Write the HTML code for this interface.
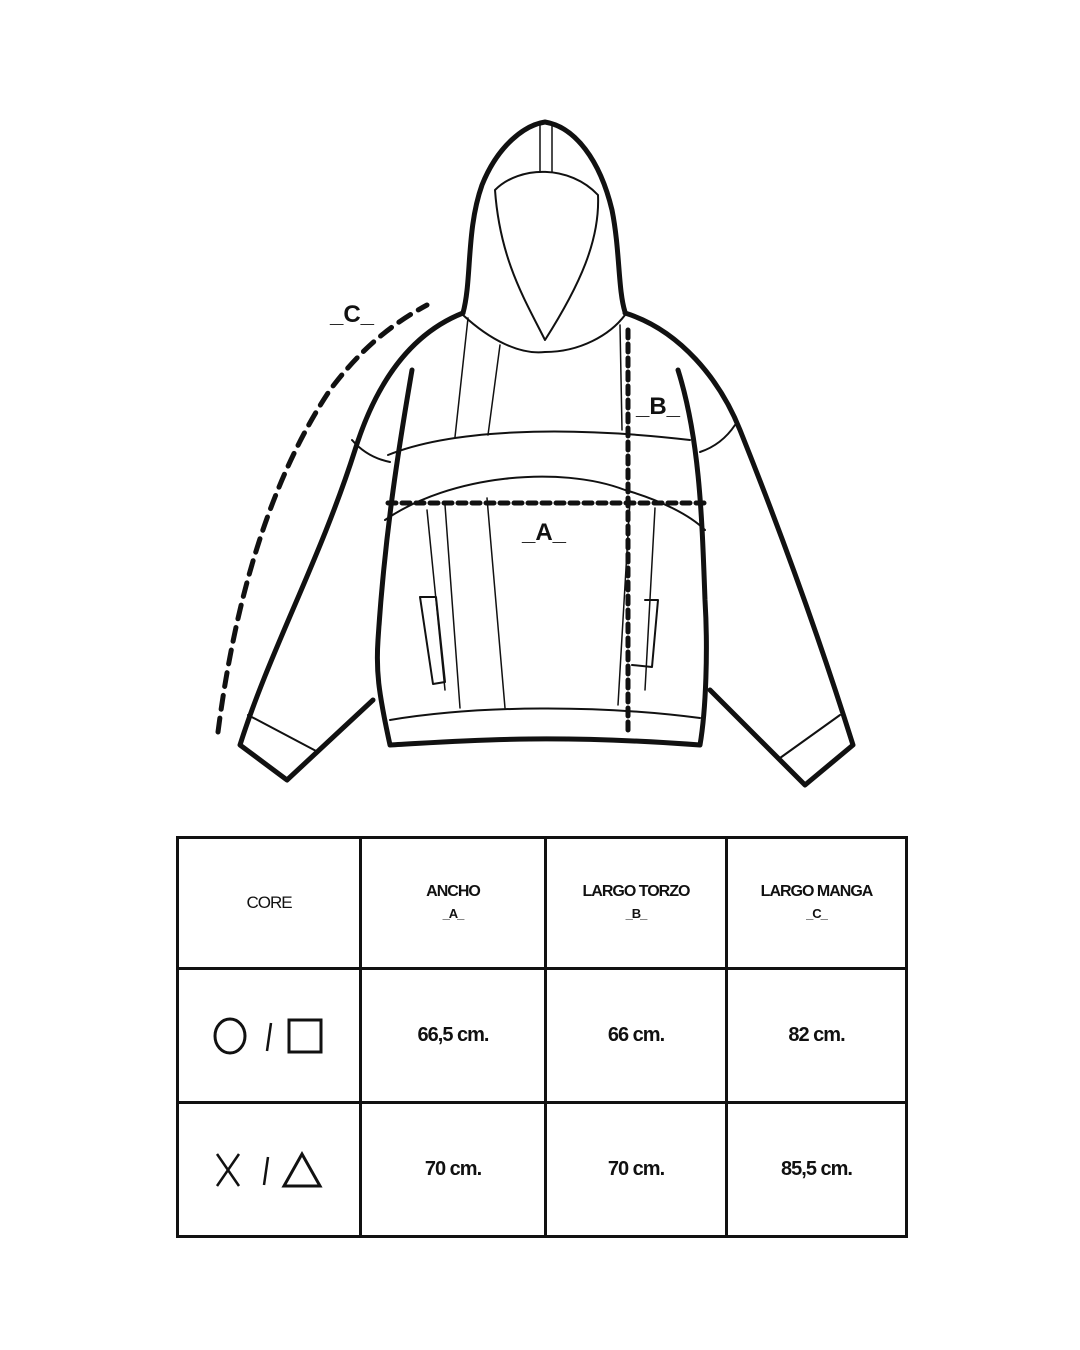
<!DOCTYPE html>
<html><head><meta charset="utf-8"><style>
body{margin:0;background:#fff;width:1080px;height:1350px;position:relative;overflow:hidden;font-family:"Liberation Sans",Arial,sans-serif}
svg{position:absolute;left:0;top:0}
table{position:absolute;left:176px;top:836px;border-collapse:collapse;width:732px;height:399px}
td{border:3px solid #111;text-align:center;vertical-align:middle;font-weight:bold;font-size:20px;letter-spacing:-1px;color:#111}
.h{font-size:16px;line-height:22px}
.core{font-weight:normal;font-size:17px}
.sub{font-size:13px}
</style></head><body>
<svg width="1080" height="830" viewBox="0 0 1080 830" fill="none" stroke="#111" stroke-linecap="round" stroke-linejoin="round">
<path d="M463 313 C472 280 466 230 482 185 C498 145 525 125 545 122 C575 127 600 160 612 210 C620 250 618 290 625 312" stroke-width="5"/>
<path d="M495 190 C520 165 570 165 598 195 C600 240 580 285 545 340 C525 300 500 260 495 190 Z" stroke-width="2"/>
<path d="M540 125 L540 172 M552 125 L552 172" stroke-width="1.5"/>
<path d="M463 315 C490 340 520 355 545 352 C580 352 610 335 625 315" stroke-width="2"/>
<path d="M463 313 C420 330 380 370 355 450 C320 560 270 650 240 745 L287 780 L373 700" stroke-width="5"/>
<path d="M625 313 C680 330 720 380 740 430 C780 530 820 640 853 745 L805 785 L710 690" stroke-width="5"/>
<path d="M412 370 C400 440 385 530 378 640 C376 670 378 690 390 745 C450 742 540 733 700 745 C706 710 708 650 705 600 C702 520 700 440 678 370" stroke-width="5"/>
<path d="M248 715 L318 752" stroke-width="2"/>
<path d="M840 715 L780 758" stroke-width="2"/>
<path d="M352 440 C365 455 380 460 390 462" stroke-width="2"/>
<path d="M735 425 C725 440 712 448 700 452" stroke-width="2"/>
<path d="M388 455 C450 430 560 425 690 440" stroke-width="2"/>
<path d="M385 520 C450 475 560 465 625 490 C660 500 690 515 705 530" stroke-width="2"/>
<path d="M390 720 C480 705 600 705 700 718" stroke-width="2"/>
<path d="M468 318 L455 437 M500 345 L488 435" stroke-width="1.5"/>
<path d="M620 325 L622 430" stroke-width="1.5"/>
<path d="M427 510 L445 690 M445 505 L460 708 M487 498 L505 708" stroke-width="1.5"/>
<path d="M655 508 L645 690 M630 500 L618 705" stroke-width="1.5"/>
<path d="M420 597 L436 597 L445 682 L433 684 Z" stroke-width="2"/>
<path d="M645 600 L658 600 L652 667 L632 665" stroke-width="2"/>
<path d="M218 732 C235 600 270 480 330 390 C360 350 390 325 427 305" stroke-width="5" stroke-dasharray="14 9"/>
<path d="M628 330 L628 735" stroke-width="5" stroke-dasharray="8 6"/>
<path d="M388 503 L705 503" stroke-width="5" stroke-dasharray="8 6"/>
<g fill="#111" stroke="none" font-family="Liberation Sans, Arial, sans-serif" font-weight="bold">
<text x="330" y="322" font-size="24">_C_</text>
<text x="636" y="414" font-size="24">_B_</text>
<text x="522" y="540" font-size="24">_A_</text>
</g>
</svg>
<table>
<tr style="height:131px"><td class="core" style="width:178px">CORE</td><td class="h" style="width:180px">ANCHO<br><span class="sub">_A_</span></td><td class="h" style="width:176px">LARGO TORZO<br><span class="sub">_B_</span></td><td class="h">LARGO MANGA<br><span class="sub">_C_</span></td></tr>
<tr style="height:134px"><td><svg style="position:static;vertical-align:middle" width="115" height="40" viewBox="0 0 115 40" fill="none" stroke="#111" stroke-width="3"><ellipse cx="18" cy="20" rx="15" ry="17"/><path d="M55 35 L59 7" stroke-width="2.5"/><rect x="77" y="4" width="32" height="32"/></svg></td><td>66,5 cm.</td><td>66 cm.</td><td>82 cm.</td></tr>
<tr style="height:134px"><td><svg style="position:static;vertical-align:middle" width="115" height="40" viewBox="0 0 115 40" fill="none" stroke="#111" stroke-width="3"><path d="M5 4 L27 36 M27 4 L5 36" stroke-width="2.5"/><path d="M52 35 L56 7" stroke-width="2.5"/><path d="M90 4 L72 36 L108 36 Z"/></svg></td><td>70 cm.</td><td>70 cm.</td><td>85,5 cm.</td></tr>
</table>
</body></html>
